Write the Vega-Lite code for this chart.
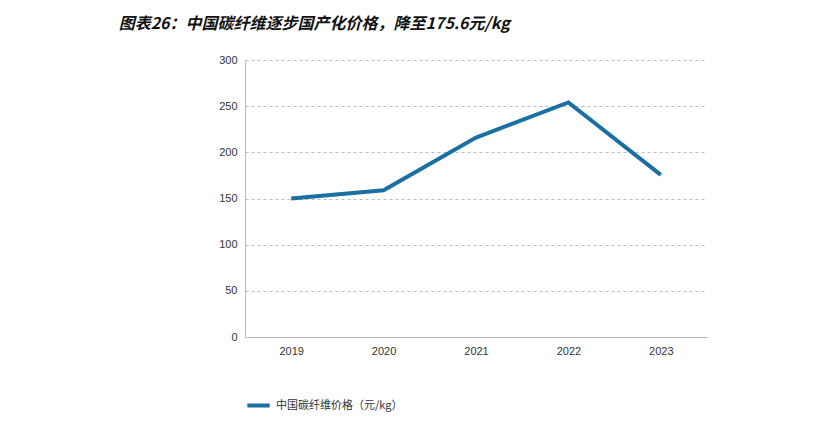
{
  "$schema": "https://vega.github.io/schema/vega-lite/v6.json",
  "width": 817,
  "height": 424,
  "autosize": {"type": "fit", "contains": "padding"},
  "padding": {"left": 118, "right": 110, "top": 16, "bottom": 10},
  "title": {
    "text": "图表26：中国碳纤维逐步国产化价格，降至175.6元/kg",
    "anchor": "start",
    "font": "Noto Sans CJK SC",
    "fontSize": 16,
    "fontWeight": "bold",
    "fontStyle": "italic",
    "color": "#111111",
    "dx": -100,
    "offset": 22
  },
  "config": {
    "view": {"stroke": null},
    "font": "Noto Sans CJK SC"
  },
  "data": {
    "values": [
      {"year": "2019", "price": 150, "series": "中国碳纤维价格（元/kg）"},
      {"year": "2020", "price": 159, "series": "中国碳纤维价格（元/kg）"},
      {"year": "2021", "price": 216, "series": "中国碳纤维价格（元/kg）"},
      {"year": "2022", "price": 254, "series": "中国碳纤维价格（元/kg）"},
      {"year": "2023", "price": 175.6, "series": "中国碳纤维价格（元/kg）"}
    ]
  },
  "mark": {"type": "line", "strokeWidth": 4},
  "encoding": {
    "x": {
      "field": "year",
      "type": "ordinal",
      "scale": {"type": "point", "padding": 0.5},
      "axis": {"title": null, "labelAngle": 0, "ticks": false, "domainColor": "#bbbbbb", "labelColor": "#333333", "labelFontSize": 11, "labelPadding": 8, "labelFont": "Liberation Sans"}
    },
    "y": {
      "field": "price",
      "type": "quantitative",
      "scale": {"domain": [0, 300]},
      "axis": {"title": null, "values": [0, 50, 100, 150, 200, 250, 300], "gridDash": [3, 3], "gridColor": "#bbbbbb", "domainColor": "#bbbbbb", "ticks": false, "labelColor": "#333333", "labelFontSize": 11, "labelPadding": 8, "labelFont": "Liberation Sans"}
    },
    "color": {
      "field": "series",
      "type": "nominal",
      "scale": {"range": ["#1a6fa3"]},
      "legend": {"orient": "bottom", "direction": "horizontal", "title": null, "symbolType": "stroke", "symbolStrokeWidth": 4, "symbolSize": 500, "labelFontSize": 11, "labelColor": "#333333", "offset": 36, "legendX": 160}
    }
  }
}
